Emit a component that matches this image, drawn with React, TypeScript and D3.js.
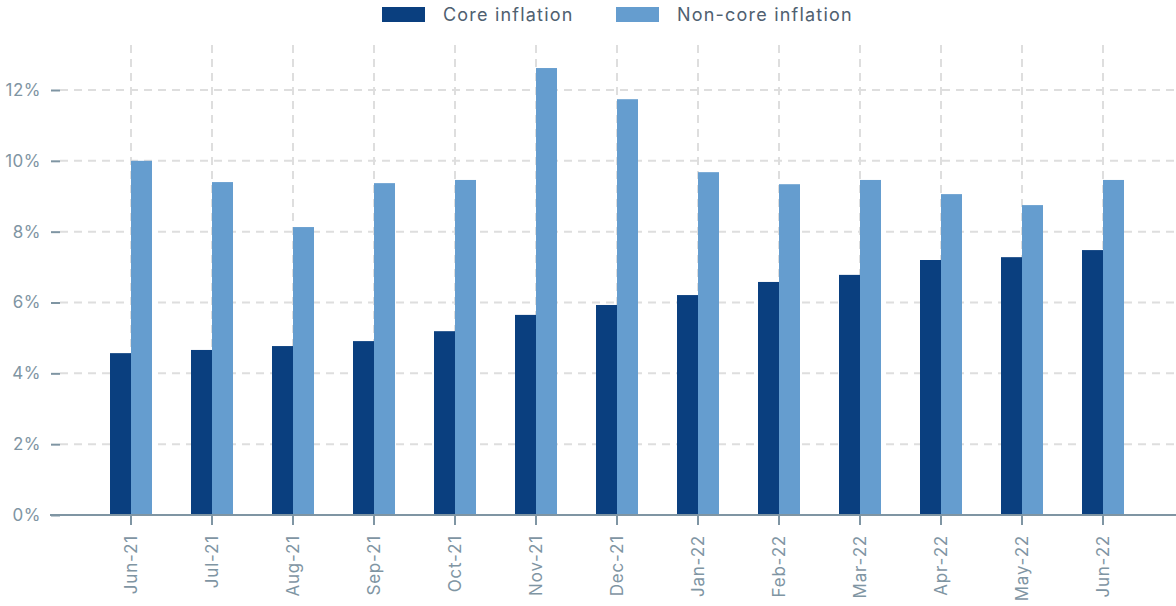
import React, { useRef, useEffect } from 'react';
import * as d3 from 'd3';

const months = ['Jun-21', 'Jul-21', 'Aug-21', 'Sep-21', 'Oct-21', 'Nov-21', 'Dec-21', 'Jan-22', 'Feb-22', 'Mar-22', 'Apr-22', 'May-22', 'Jun-22'];
const coreInflation = [4.57, 4.66, 4.77, 4.91, 5.19, 5.65, 5.93, 6.21, 6.58, 6.78, 7.2, 7.28, 7.48];
const nonCoreInflation = [10.0, 9.4, 8.13, 9.37, 9.46, 12.62, 11.74, 9.68, 9.34, 9.46, 9.06, 8.75, 9.46];
const yTicks = [0, 2, 4, 6, 8, 10, 12];
const seriesNames = ['Core inflation', 'Non-core inflation'];
const colors = ['#0a3f7f', '#659dcf'];

const App = () => {
  const ref = useRef(null);

  useEffect(() => {
    const svg = d3.select(ref.current);
    svg.selectAll('*').remove();

    const width = 1176;
    const font = 'Inter, "Noto Sans", sans-serif';

    const x = d3.scaleBand().domain(months).range([90.5, 1143.5]).padding(0);
    const x1 = d3.scaleBand().domain(seriesNames).range([0, 42]);
    const y = d3.scaleLinear().domain([0, 12]).range([515, 90]);

    // horizontal grid
    svg.append('g')
      .selectAll('line')
      .data(yTicks.filter(d => d > 0))
      .join('line')
      .attr('x1', 60)
      .attr('x2', width)
      .attr('y1', d => y(d))
      .attr('y2', d => y(d))
      .attr('stroke', '#dedede')
      .attr('stroke-width', 2)
      .attr('stroke-dasharray', '8,6');

    // vertical grid
    svg.append('g')
      .selectAll('line')
      .data(months)
      .join('line')
      .attr('x1', d => x(d) + x.bandwidth() / 2)
      .attr('x2', d => x(d) + x.bandwidth() / 2)
      .attr('y1', 45)
      .attr('y2', 515)
      .attr('stroke', '#dedede')
      .attr('stroke-width', 2)
      .attr('stroke-dasharray', '8,6');

    // bars
    const groups = svg.append('g')
      .selectAll('g')
      .data(months)
      .join('g')
      .attr('transform', d => `translate(${x(d) + x.bandwidth() / 2 - 21},0)`);

    groups.selectAll('rect')
      .data((d, i) => [coreInflation[i], nonCoreInflation[i]].map((v, j) => ({ key: seriesNames[j], v, j })))
      .join('rect')
      .attr('x', d => x1(d.key))
      .attr('width', x1.bandwidth())
      .attr('y', d => y(d.v))
      .attr('height', d => y(0) - y(d.v))
      .attr('fill', d => colors[d.j]);

    // y axis
    const yAxis = svg.append('g')
      .attr('transform', 'translate(60,0)')
      .call(d3.axisLeft(y).tickValues(yTicks).tickSize(9).tickPadding(10).tickFormat(d => `${d}%`));
    yAxis.select('.domain').remove();
    yAxis.selectAll('line').attr('stroke', '#7f95a3').attr('stroke-width', 2);
    yAxis.selectAll('text')
      .attr('fill', '#7f95a3')
      .style('font-family', font)
      .style('font-size', '17px')
      .style('letter-spacing', '0.5px');

    // x axis
    const xAxis = svg.append('g')
      .attr('transform', 'translate(0,515)')
      .call(d3.axisBottom(x).tickSize(10).tickSizeOuter(0));
    xAxis.select('.domain')
      .attr('d', `M50,0H${width}`)
      .attr('stroke', '#7f95a3')
      .attr('stroke-width', 2);
    xAxis.selectAll('.tick line').attr('stroke', '#7f95a3').attr('stroke-width', 2);
    xAxis.selectAll('.tick text')
      .attr('fill', '#7f95a3')
      .style('font-family', font)
      .style('font-size', '17px')
      .style('letter-spacing', '0.8px')
      .attr('text-anchor', 'end')
      .attr('transform', 'rotate(-90)')
      .attr('x', -20)
      .attr('y', 0)
      .attr('dy', '0.35em');

    // legend
    const legendX = [382, 616];
    const legend = svg.append('g');
    seriesNames.forEach((name, i) => {
      legend.append('rect')
        .attr('x', legendX[i])
        .attr('y', 7)
        .attr('width', 43)
        .attr('height', 15)
        .attr('fill', colors[i]);
      legend.append('text')
        .attr('x', legendX[i] + 61)
        .attr('y', 21)
        .attr('fill', '#4f6070')
        .style('font-family', font)
        .style('font-size', '18px')
        .style('letter-spacing', '1.2px')
        .text(name);
    });
  }, []);

  return (
    <svg ref={ref} width={1176} height={606} style={{ position: 'absolute', left: 0, top: 0, background: '#fff' }} />
  );
};

export default App;
